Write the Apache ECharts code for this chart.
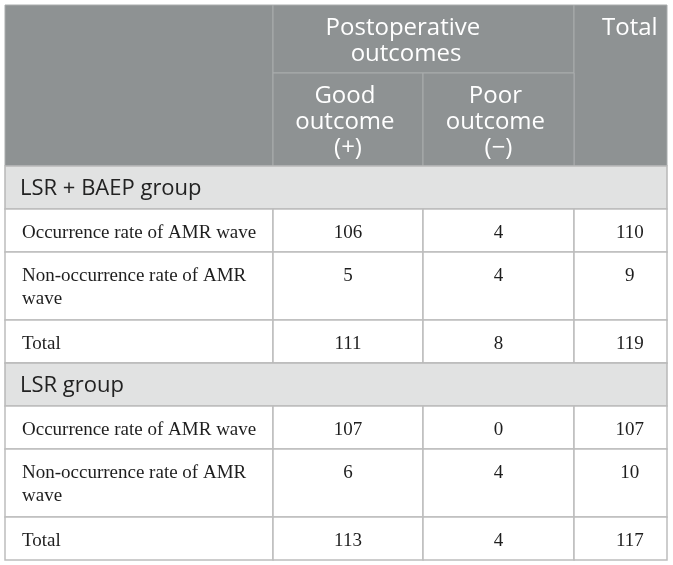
<!DOCTYPE html>
<html>
<head>
<meta charset="utf-8">
<script src="https://cdn.jsdelivr.net/npm/echarts@6/dist/echarts.min.js"></script>
<style>
html, body { margin: 0; padding: 0; background: #fff; }
#main { width: 673px; height: 565px; }
</style>
</head>
<body>
<div id="main"></div>
<script>
// table content
var headTitle = 'Postoperative outcomes';
var headColumns = ['Good outcome (+)', 'Poor outcome (\u2212)'];
var headTotal = 'Total';
var groupNames = ['LSR + BAEP group', 'LSR group'];
var rowNames = ['Occurrence rate of AMR wave', 'Non-occurrence rate of AMR wave', 'Total'];
var goodCounts = [[106, 5, 111], [107, 6, 113]];
var poorCounts = [[4, 4, 8], [0, 4, 4]];
var totalCounts = [[110, 9, 119], [107, 10, 117]];

// layout, in table units (1 unit = 1px from the table corner)
var colEdges = [0, 268, 418, 569, 662];
var headRows = [0, 68, 161];
var groupHeight = 43;
var rowHeights = [43, 68, 43];
var tableHeight = 555;

var cellStyles = {
    head: { fill: '#8e9293', stroke: '#a9acad', lineWidth: 1, color: '#ffffff',
            font: "24px 'Open Sans'", lineHeight: 26 },
    group: { fill: '#e1e2e2', stroke: '#b8b8b8', lineWidth: 1.5, color: '#222222',
             font: "22px 'Open Sans'", lineHeight: 25 },
    body: { fill: '#ffffff', stroke: '#bdbdbd', lineWidth: 1.5, color: '#1e1e1e',
            font: "19px 'Liberation Serif'", lineHeight: 23 }
};

var cells = [];

function addCell(c0, c1, y0, y1, kind, text, opts) {
    opts = opts || {};
    cells.push({
        x0: colEdges[c0], x1: colEdges[c1], y0: y0, y1: y1,
        kind: kind, text: text,
        align: opts.align || 'center',
        anchor: opts.anchor == null ? 0.5 : opts.anchor,
        wrap: opts.wrap || 0
    });
}

// header block
addCell(0, 1, headRows[0], headRows[2], 'head', '');
addCell(1, 3, headRows[0], headRows[1], 'head', headTitle, { anchor: 0.442, wrap: 180 });
addCell(3, 4, headRows[0], headRows[2], 'head', headTotal, { anchor: 0.6, wrap: 90 });
addCell(1, 2, headRows[1], headRows[2], 'head', headColumns[0], { wrap: 106 });
addCell(2, 3, headRows[1], headRows[2], 'head', headColumns[1], { wrap: 106 });

// body blocks
var y = headRows[2];
groupNames.forEach(function (g, gi) {
    addCell(0, 4, y, y + groupHeight, 'group', g, { align: 'left' });
    y += groupHeight;
    rowNames.forEach(function (r, ri) {
        var h = rowHeights[ri];
        addCell(0, 1, y, y + h, 'body', r, { align: 'left', wrap: 238 });
        addCell(1, 2, y, y + h, 'body', String(goodCounts[gi][ri]));
        addCell(2, 3, y, y + h, 'body', String(poorCounts[gi][ri]));
        addCell(3, 4, y, y + h, 'body', String(totalCounts[gi][ri]), { anchor: 0.6 });
        y += h;
    });
});

function renderCell(params, api) {
    var cell = cells[params.dataIndex];
    var st = cellStyles[cell.kind];
    var p0 = api.coord([api.value(0), api.value(1)]);
    var p1 = api.coord([api.value(2), api.value(3)]);
    var w = p1[0] - p0[0];
    var h = p1[1] - p0[1];
    var children = [{
        type: 'rect',
        shape: { x: p0[0], y: p0[1], width: w, height: h },
        style: { fill: st.fill, stroke: st.stroke, lineWidth: st.lineWidth }
    }];
    if (cell.text !== '') {
        var tx, ty, va;
        if (cell.align === 'left') {
            tx = p0[0] + (cell.kind === 'group' ? 15 : 17);
        } else {
            tx = p0[0] + w * cell.anchor;
        }
        if (cell.kind === 'group') {
            ty = p0[1] + h / 2 + 1;
            va = 'middle';
        } else if (cell.kind === 'head') {
            ty = p0[1] + 10;
            va = 'top';
        } else {
            ty = p0[1] + 13;
            va = 'top';
        }
        var ts = {
            text: cell.text,
            font: st.font,
            fill: st.color,
            align: cell.align,
            verticalAlign: va,
            lineHeight: st.lineHeight
        };
        if (cell.wrap) {
            ts.width = cell.wrap;
            ts.overflow = 'break';
        }
        children.push({ type: 'text', x: tx, y: ty, style: ts });
    }
    return { type: 'group', children: children };
}

var chart = echarts.init(document.getElementById('main'));

var option = {
    animation: false,
    grid: { left: 5, top: 5, width: colEdges[colEdges.length - 1], height: tableHeight },
    xAxis: { type: 'value', min: 0, max: colEdges[colEdges.length - 1], show: false },
    yAxis: { type: 'value', min: 0, max: tableHeight, inverse: true, show: false },
    series: [{
        type: 'custom',
        renderItem: renderCell,
        data: cells.map(function (c) {
            return [c.x0, c.y0, c.x1, c.y1];
        })
    }]
};

chart.setOption(option);
</script>
</body>
</html>
